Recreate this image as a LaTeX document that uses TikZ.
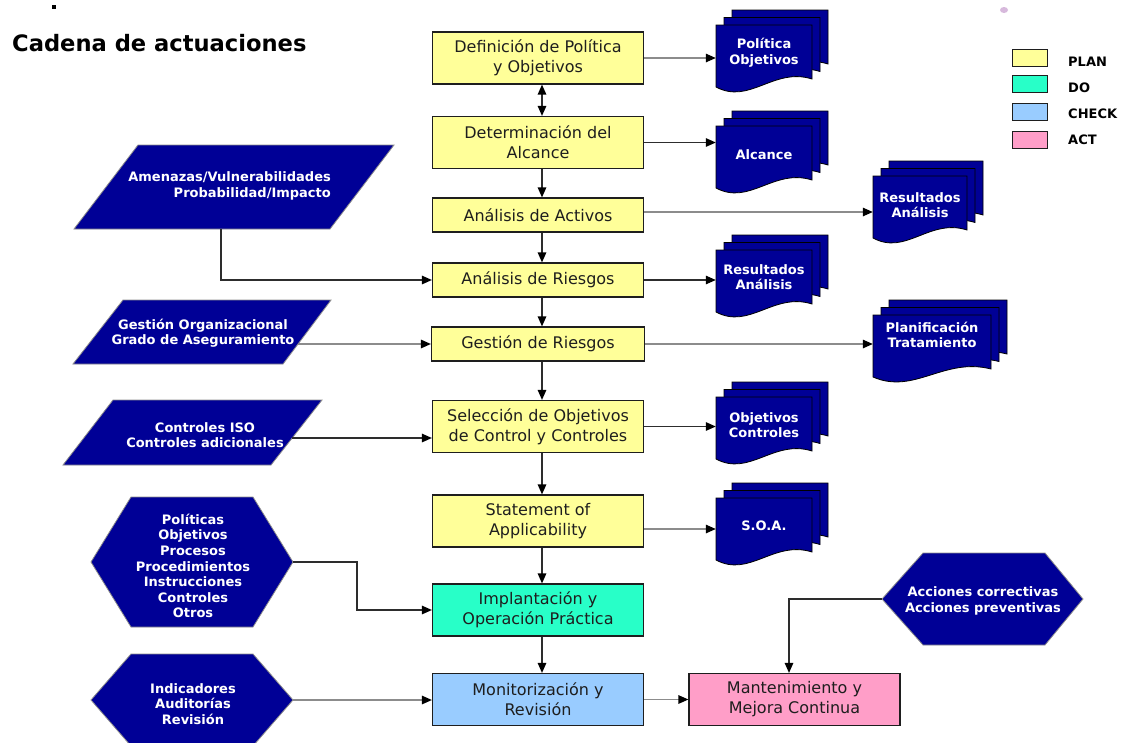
\documentclass[tikz,border=0pt]{standalone}
\usepackage{fontspec}
\setmainfont{DejaVu Sans}
\usetikzlibrary{arrows.meta}
\definecolor{navyb}{RGB}{0,0,150}
\definecolor{planc}{RGB}{255,255,153}
\definecolor{doc}{RGB}{40,255,200}
\definecolor{checkc}{RGB}{153,204,255}
\definecolor{actc}{RGB}{255,158,200}
\definecolor{boxline}{RGB}{30,30,30}
\definecolor{darkl}{RGB}{45,45,45}
\definecolor{lightl}{RGB}{140,140,140}
\definecolor{smudge}{RGB}{215,185,220}
\newcommand\docstack[6]{%
  \foreach \dx/\dy in {16/-15,8/-7.5,0/0}{%
    \filldraw[docpage,shift={(#2+\dx,#3+\dy)}] (0,0) -- (#4,0) -- (#4,54) .. controls ({0.6*#4},42) and ({0.35*#4},80) .. (0,62) -- cycle;
  }
  \node[wb, minimum width=#4pt] (#1) at ({#2+#4/2},{#3+#5}) {#6};
}
\begin{document}
\begin{tikzpicture}[x=1pt,y=-1pt,
  >={Triangle[length=10pt,width=8.5pt,color=black]},
  box/.style={draw=boxline, line width=1.2pt, text=boxline, align=center, inner sep=0pt,
    minimum width=211pt, font=\fontsize{16}{20}\selectfont},
  tall/.style={minimum height=52pt},
  short/.style={minimum height=34pt},
  plan/.style={fill=planc}, dostyle/.style={fill=doc},
  check/.style={fill=checkc}, act/.style={fill=actc},
  dk/.style={draw=darkl, line width=1.3pt},
  lt/.style={draw=lightl, line width=1.4pt},
  wb/.style={text=white, font=\bfseries\fontsize{13}{15.6}\selectfont, align=center, inner sep=0pt},
  docpage/.style={fill=navyb, draw=black, line width=0.8pt},
  blueshape/.style={fill=navyb, draw=lightl, line width=0.8pt},
  legbox/.style={draw=boxline, line width=1pt, minimum width=35pt, minimum height=17pt, inner sep=0pt},
  legtext/.style={anchor=west, inner sep=0pt, font=\bfseries\fontsize{13}{15}\selectfont}
]
\useasboundingbox (0,0) rectangle (1121,742);
\fill[white] (0,0) rectangle (1121,742);

% artefacts
\fill[black] (52,5) rectangle (56,9);
\fill[smudge] (1004,10) ellipse (4 and 3);

% title
\node[anchor=base west, inner sep=0pt, font=\bfseries\fontsize{22.6}{26}\selectfont] (title) at (12,51) {Cadena de actuaciones};

% main boxes
\node[box,tall,plan] (b1) at (538,58) {Definición de Política\\y Objetivos};
\node[box,tall,plan] (b2) at (538,142.5) {Determinación del\\Alcance};
\node[box,short,plan] (b3) at (538,215) {Análisis de Activos};
\node[box,short,plan] (b4) at (538,280) {Análisis de Riesgos};
\node[box,short,plan,minimum width=213pt] (b5) at (538,344) {Gestión de Riesgos};
\node[box,tall,plan] (b6) at (538,426.5) {Selección de Objetivos\\de Control y Controles};
\node[box,tall,plan] (b7) at (538,521) {Statement of\\Applicability};
\node[box,tall,dostyle] (b8) at (538,610) {Implantación y\\Operación Práctica};
\node[box,tall,check] (b9) at (538,699.5) {Monitorización y\\Revisión};
\node[box,tall,act] (b10) at (794.5,699.5) {Mantenimiento y\\Mejora Continua};

% vertical arrows
\draw[dk,<->] ([xshift=4pt]b1.south) -- ([xshift=4pt]b2.north);
\draw[dk,->] ([xshift=4pt]b2.south) -- ([xshift=4pt]b3.north);
\draw[dk,->] ([xshift=4pt]b3.south) -- ([xshift=4pt]b4.north);
\draw[dk,->] ([xshift=4pt]b4.south) -- ([xshift=4pt]b5.north);
\draw[dk,->] ([xshift=4pt]b5.south) -- ([xshift=4pt]b6.north);
\draw[dk,->] ([xshift=4pt]b6.south) -- ([xshift=4pt]b7.north);
\draw[dk,->] ([xshift=4pt]b7.south) -- ([xshift=4pt]b8.north);
\draw[dk,->] ([xshift=4pt]b8.south) -- ([xshift=4pt]b9.north);

% documents
\docstack{d1}{716}{25}{96}{28}{Política\\Objetivos}
\docstack{d2}{716}{126}{96}{29}{Alcance}
\docstack{d3}{873}{176}{94}{29}{Resultados\\Análisis}
\docstack{d4}{716}{250}{96}{27}{Resultados\\Análisis}
\docstack{d5}{873}{315}{118}{20}{Planificación\\Tratamiento}
\docstack{d6}{716}{397}{96}{28}{Objetivos\\Controles}
\docstack{d7}{716}{498}{96}{28}{S.O.A.}

% connectors to documents
\draw[lt,->] (b1.east) -- (b1.east -| d1.west);
\draw[dk,->] (b2.east) -- (b2.east -| d2.west);
\draw[lt,->] ([yshift=3pt]b3.east) -- ([yshift=3pt]b3.east -| d3.west);
\draw[dk,->] (b4.east) -- (b4.east -| d4.west);
\draw[lt,->] (b5.east) -- (b5.east -| d5.west);
\draw[dk,->] (b6.east) -- (b6.east -| d6.west);
\draw[lt,->] ([yshift=-8pt]b7.east) -- ([yshift=-8pt]b7.east -| d7.west);

% input parallelograms
\filldraw[blueshape] (138,145) -- (394,145) -- (330,229) -- (74,229) -- cycle;
\node[wb, anchor=east, align=right] (p1) at (331,186) {Amenazas/Vulnerabilidades\\Probabilidad/Impacto};
\coordinate (p1b) at (221,229);
\draw[dk,->] (p1b) |- (b4.west);

\filldraw[blueshape] (123,300) -- (331,300) -- (283,364) -- (73,364) -- cycle;
\node[wb] (p2) at (203,333) {Gestión Organizacional\\Grado de Aseguramiento};
\coordinate (p2e) at (298,344);
\draw[lt,->] (p2e) -- (p2e -| b5.west);

\filldraw[blueshape] (113,400) -- (322,400) -- (271,465) -- (63,465) -- cycle;
\node[wb] (p3) at (205,435) {Controles ISO\\Controles adicionales};
\coordinate (p3e) at (292,438);
\draw[dk,->] (p3e) -- (p3e -| b6.west);

% hexagons
\filldraw[blueshape] (91,562) -- (131,497) -- (253,497) -- (293,562) -- (253,627) -- (131,627) -- cycle;
\node[wb] (h1) at (193,566) {Políticas\\Objetivos\\Procesos\\Procedimientos\\Instrucciones\\Controles\\Otros};
\coordinate (h1e) at (293,562);
\coordinate (h1k) at (357,562);
\draw[dk,->] (h1e) -- (h1k) |- (b8.west);

\filldraw[blueshape] (91,700) -- (131,654) -- (253,654) -- (293,700) -- (253,746) -- (131,746) -- cycle;
\node[wb] (h2) at (193,704) {Indicadores\\Auditorías\\Revisión};
\coordinate (h2e) at (293,700);
\draw[lt,->] (h2e) -- (h2e -| b9.west);

\filldraw[blueshape] (882,599) -- (923,553) -- (1045,553) -- (1083,599) -- (1045,645) -- (923,645) -- cycle;
\node[wb] (h3) at (983,601) {Acciones correctivas\\Acciones preventivas};
\coordinate (h3w) at (882,599);
\draw[dk,->] (h3w) -| ([xshift=-5.5pt]b10.north);

\draw[lt,->] (b9.east) -- (b10.west);

% legend
\node[legbox, fill=planc] (l1) at (1029.5,57.5) {};
\node[legbox, fill=doc] (l2) at (1029.5,84) {};
\node[legbox, fill=checkc] (l3) at (1029.5,112) {};
\node[legbox, fill=actc] (l4) at (1029.5,139.5) {};
\node[legtext] (t1) at (1068,62) {PLAN};
\node[legtext] (t2) at (1068,88) {DO};
\node[legtext] (t3) at (1068,114) {CHECK};
\node[legtext] (t4) at (1068,140) {ACT};
\end{tikzpicture}
\end{document}
